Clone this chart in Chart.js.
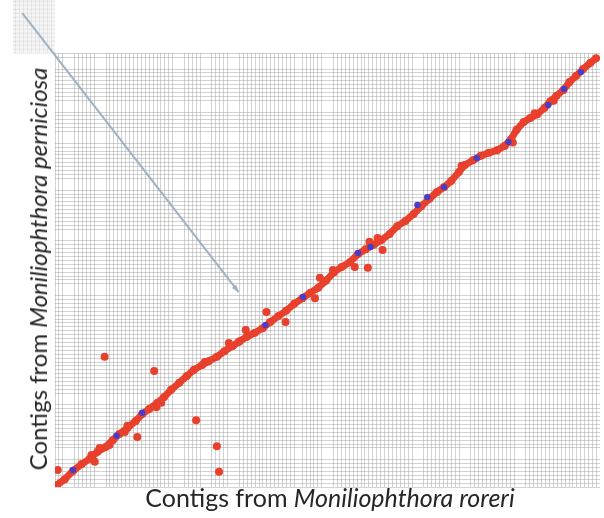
<!DOCTYPE html>
<html>
<head>
<meta charset="utf-8">
<script src="https://cdn.jsdelivr.net/npm/chart.js@4"></script>
<style>
    html, body { margin: 0; padding: 0; background: #fff; }
    #wrap { position: relative; width: 604px; height: 518px; overflow: hidden; }
    #dotplot { position: absolute; left: 0; top: 0; }
    .axis-title {
        position: absolute;
        font-family: Lato, "Open Sans", sans-serif;
        color: #262626;
        white-space: nowrap;
        line-height: 1;
    }
    #xTitle { left: 330px; top: 485px; font-size: 25px; transform: translateX(-50%); }
    #yTitle { left: 38px; top: 269px; font-size: 24px; transform: translate(-50%, -50%) rotate(-90deg); }
</style>
</head>
<body>
<div id="wrap">
    <canvas id="dotplot" width="604" height="518"></canvas>
    <div id="xTitle" class="axis-title">Contigs from <i>Moniliophthora roreri</i></div>
    <div id="yTitle" class="axis-title">Contigs from <i>Moniliophthora perniciosa</i></div>
</div>

<script>
// Syntenic hits, position along each concatenated assembly (% of total length)
const bandX = [0.4, 1.8, 3.3, 4.9, 6.4, 7.8, 9.3, 10.6, 11.8, 13.3, 14.8, 16.0, 17.3, 18.8, 20.0, 21.3,
    22.8, 24.2, 25.5, 27.0, 28.2, 29.7, 31.1, 32.6, 33.9, 35.2, 36.6, 38.1, 39.5, 41.0, 42.4, 43.9,
    45.4, 46.8, 48.3, 49.7, 51.2, 52.6, 54.1, 55.6, 57.0, 58.5, 59.9, 61.4, 62.8, 64.3, 65.8, 67.2,
    68.7, 70.1, 71.4, 72.7, 74.1, 75.2, 76.7, 78.1, 79.6, 81.1, 82.5, 83.6, 84.7, 86.0, 87.2, 88.5,
    89.8, 90.9, 92.0, 93.3, 94.4, 95.6, 96.9, 98.2, 99.3];
const bandY = [0.5, 1.8, 3.7, 5.3, 6.5, 8.1, 9.2, 10.8, 12.2, 13.6, 15.2, 16.8, 18.0, 19.4, 20.7, 22.4,
    24.0, 25.6, 27.0, 28.1, 29.0, 30.0, 31.3, 32.5, 33.6, 34.6, 35.5, 36.6, 38.0, 39.4, 40.6, 42.2,
    43.5, 44.7, 45.9, 47.5, 49.5, 50.7, 51.8, 53.7, 54.8, 55.8, 56.9, 58.3, 60.1, 61.3, 62.9, 64.7,
    66.4, 68.0, 69.1, 70.5, 72.6, 74.2, 75.3, 76.3, 77.0, 77.6, 78.6, 80.0, 82.3, 84.1, 85.0, 85.9,
    87.3, 88.9, 90.1, 91.5, 93.3, 94.7, 96.3, 97.7, 98.8];

// off-diagonal / scattered hits
const scatterX = [0.5, 9.1, 18.2, 15.1, 18.6, 25.9, 29.7, 30.1, 31.9, 33.7, 35.0, 38.8, 42.3, 47.7,
    48.6, 51.0, 55.0, 57.4, 57.7, 59.2, 60.1, 6.7, 8.2, 12.8, 13.3, 19.5, 27.5, 7.3, 10.0,
    74.6, 84.0, 88.0, 91.5];
const scatterY = [3.9, 30.0, 26.7, 11.5, 18.4, 15.4, 9.4, 3.5, 33.2, 33.4, 36.2, 40.3, 38.0, 43.5,
    48.2, 50.0, 50.7, 50.5, 56.5, 57.4, 54.6, 7.4, 9.0, 12.7, 14.1, 19.4, 28.8, 5.8, 9.7,
    74.0, 79.4, 86.1, 89.0];

// reverse-strand hits (blue)
const reverseX = [3.3, 11.3, 16.0, 38.6, 45.5, 55.6, 57.9, 66.5, 68.3, 71.4, 77.4, 83.2, 90.5, 93.4, 96.5];
const reverseY = [3.9, 11.8, 17.1, 37.3, 43.8, 53.9, 55.3, 65.0, 66.8, 69.1, 75.8, 79.5, 88.0, 91.7, 95.6];

// contig boundaries that show as white seams in the grid
const xSeams = [2.4, 8.2, 22.8, 27.7, 32.8, 44.6, 50.1, 66.5, 75.4, 85.4];
const ySeams = [7.4, 20.0, 45.4, 58.1, 69.6, 80.4, 88.0, 97.7];

// callout arrow (from inset to the diagonal)
const arrowX = [-6.0, 33.7];
const arrowY = [109.2, 44.9];

const RED = '#e8402c';
const BLUE = '#4a3cc4';
const ARROW = '#9fb1c3';

function toPoints(xs, ys) {
    return xs.map((x, i) => ({ x: x, y: ys[i] }));
}

// dense contig grid: one line every ~0.7 %, dropping the ones on a seam
function denseTicks(step, seams) {
    return function (scale) {
        const ticks = [];
        for (let v = 0; v <= 100.001; v += step) {
            const nearSeam = seams.some(s => Math.abs(s - v) < step * 0.9);
            if (!nearSeam) ticks.push({ value: v });
        }
        scale.ticks = ticks;
    };
}

// faint grid patch in the top-left corner + arrow head
const decorPlugin = {
    id: 'decor',
    beforeDatasetsDraw(chart) {
        const ctx = chart.ctx;
        const xs = chart.scales.x, ys = chart.scales.y;
        const x0 = xs.getPixelForValue(-7.7), x1 = xs.getPixelForValue(0);
        const y0 = ys.getPixelForValue(112.5), y1 = ys.getPixelForValue(100);
        ctx.save();
        ctx.fillStyle = 'rgba(240,240,240,0.6)';
        ctx.fillRect(x0, y0, x1 - x0, y1 - y0);
        ctx.strokeStyle = 'rgba(205,205,205,0.4)';
        ctx.lineWidth = 1;
        for (let x = x0 + 2; x < x1; x += 4) {
            ctx.beginPath(); ctx.moveTo(x + 0.5, y0); ctx.lineTo(x + 0.5, y1); ctx.stroke();
        }
        for (let y = y0 + 2; y < y1; y += 4) {
            ctx.beginPath(); ctx.moveTo(x0, y + 0.5); ctx.lineTo(x1, y + 0.5); ctx.stroke();
        }
        ctx.restore();
    },
    afterDatasetsDraw(chart) {
        const meta = chart.getDatasetMeta(3);
        const p0 = meta.data[0], p1 = meta.data[1];
        const ang = Math.atan2(p1.y - p0.y, p1.x - p0.x);
        const ctx = chart.ctx;
        ctx.save();
        ctx.fillStyle = ARROW;
        ctx.beginPath();
        ctx.moveTo(p1.x, p1.y);
        ctx.lineTo(p1.x - 8 * Math.cos(ang - 0.35), p1.y - 8 * Math.sin(ang - 0.35));
        ctx.lineTo(p1.x - 8 * Math.cos(ang + 0.35), p1.y - 8 * Math.sin(ang + 0.35));
        ctx.closePath();
        ctx.fill();
        ctx.restore();
    }
};

const gridStyle = {
    color: 'rgba(150,150,150,0.42)',
    lineWidth: 1,
    drawTicks: false,
    borderDash: [1, 1]
};

new Chart(document.getElementById('dotplot'), {
    type: 'scatter',
    data: {
        datasets: [
            {
                label: 'Forward',
                data: toPoints(bandX, bandY),
                showLine: true,
                borderColor: RED,
                borderWidth: 7,
                backgroundColor: RED,
                pointRadius: 4,
                pointBorderWidth: 0,
                order: 3
            },
            {
                label: 'Scattered',
                data: toPoints(scatterX, scatterY),
                backgroundColor: RED,
                pointRadius: 4,
                pointBorderWidth: 0,
                order: 2
            },
            {
                label: 'Reverse',
                data: toPoints(reverseX, reverseY),
                backgroundColor: BLUE,
                pointRadius: 3.2,
                pointBorderWidth: 0,
                order: 1
            },
            {
                label: 'Arrow',
                data: toPoints(arrowX, arrowY),
                showLine: true,
                borderColor: ARROW,
                borderWidth: 2,
                pointRadius: 0,
                clip: false,
                order: 0
            }
        ]
    },
    options: {
        responsive: false,
        animation: false,
        layout: { padding: { left: 55, top: 53, right: 0, bottom: 31 } },
        plugins: {
            legend: { display: false },
            tooltip: { enabled: false }
        },
        scales: {
            x: {
                min: 0, max: 100,
                afterBuildTicks: denseTicks(0.72, xSeams),
                ticks: { display: false },
                grid: gridStyle,
                border: { display: false }
            },
            y: {
                min: 0, max: 100,
                afterBuildTicks: denseTicks(0.9, ySeams),
                ticks: { display: false },
                grid: gridStyle,
                border: { display: false }
            }
        }
    },
    plugins: [decorPlugin]
});
</script>
</body>
</html>
